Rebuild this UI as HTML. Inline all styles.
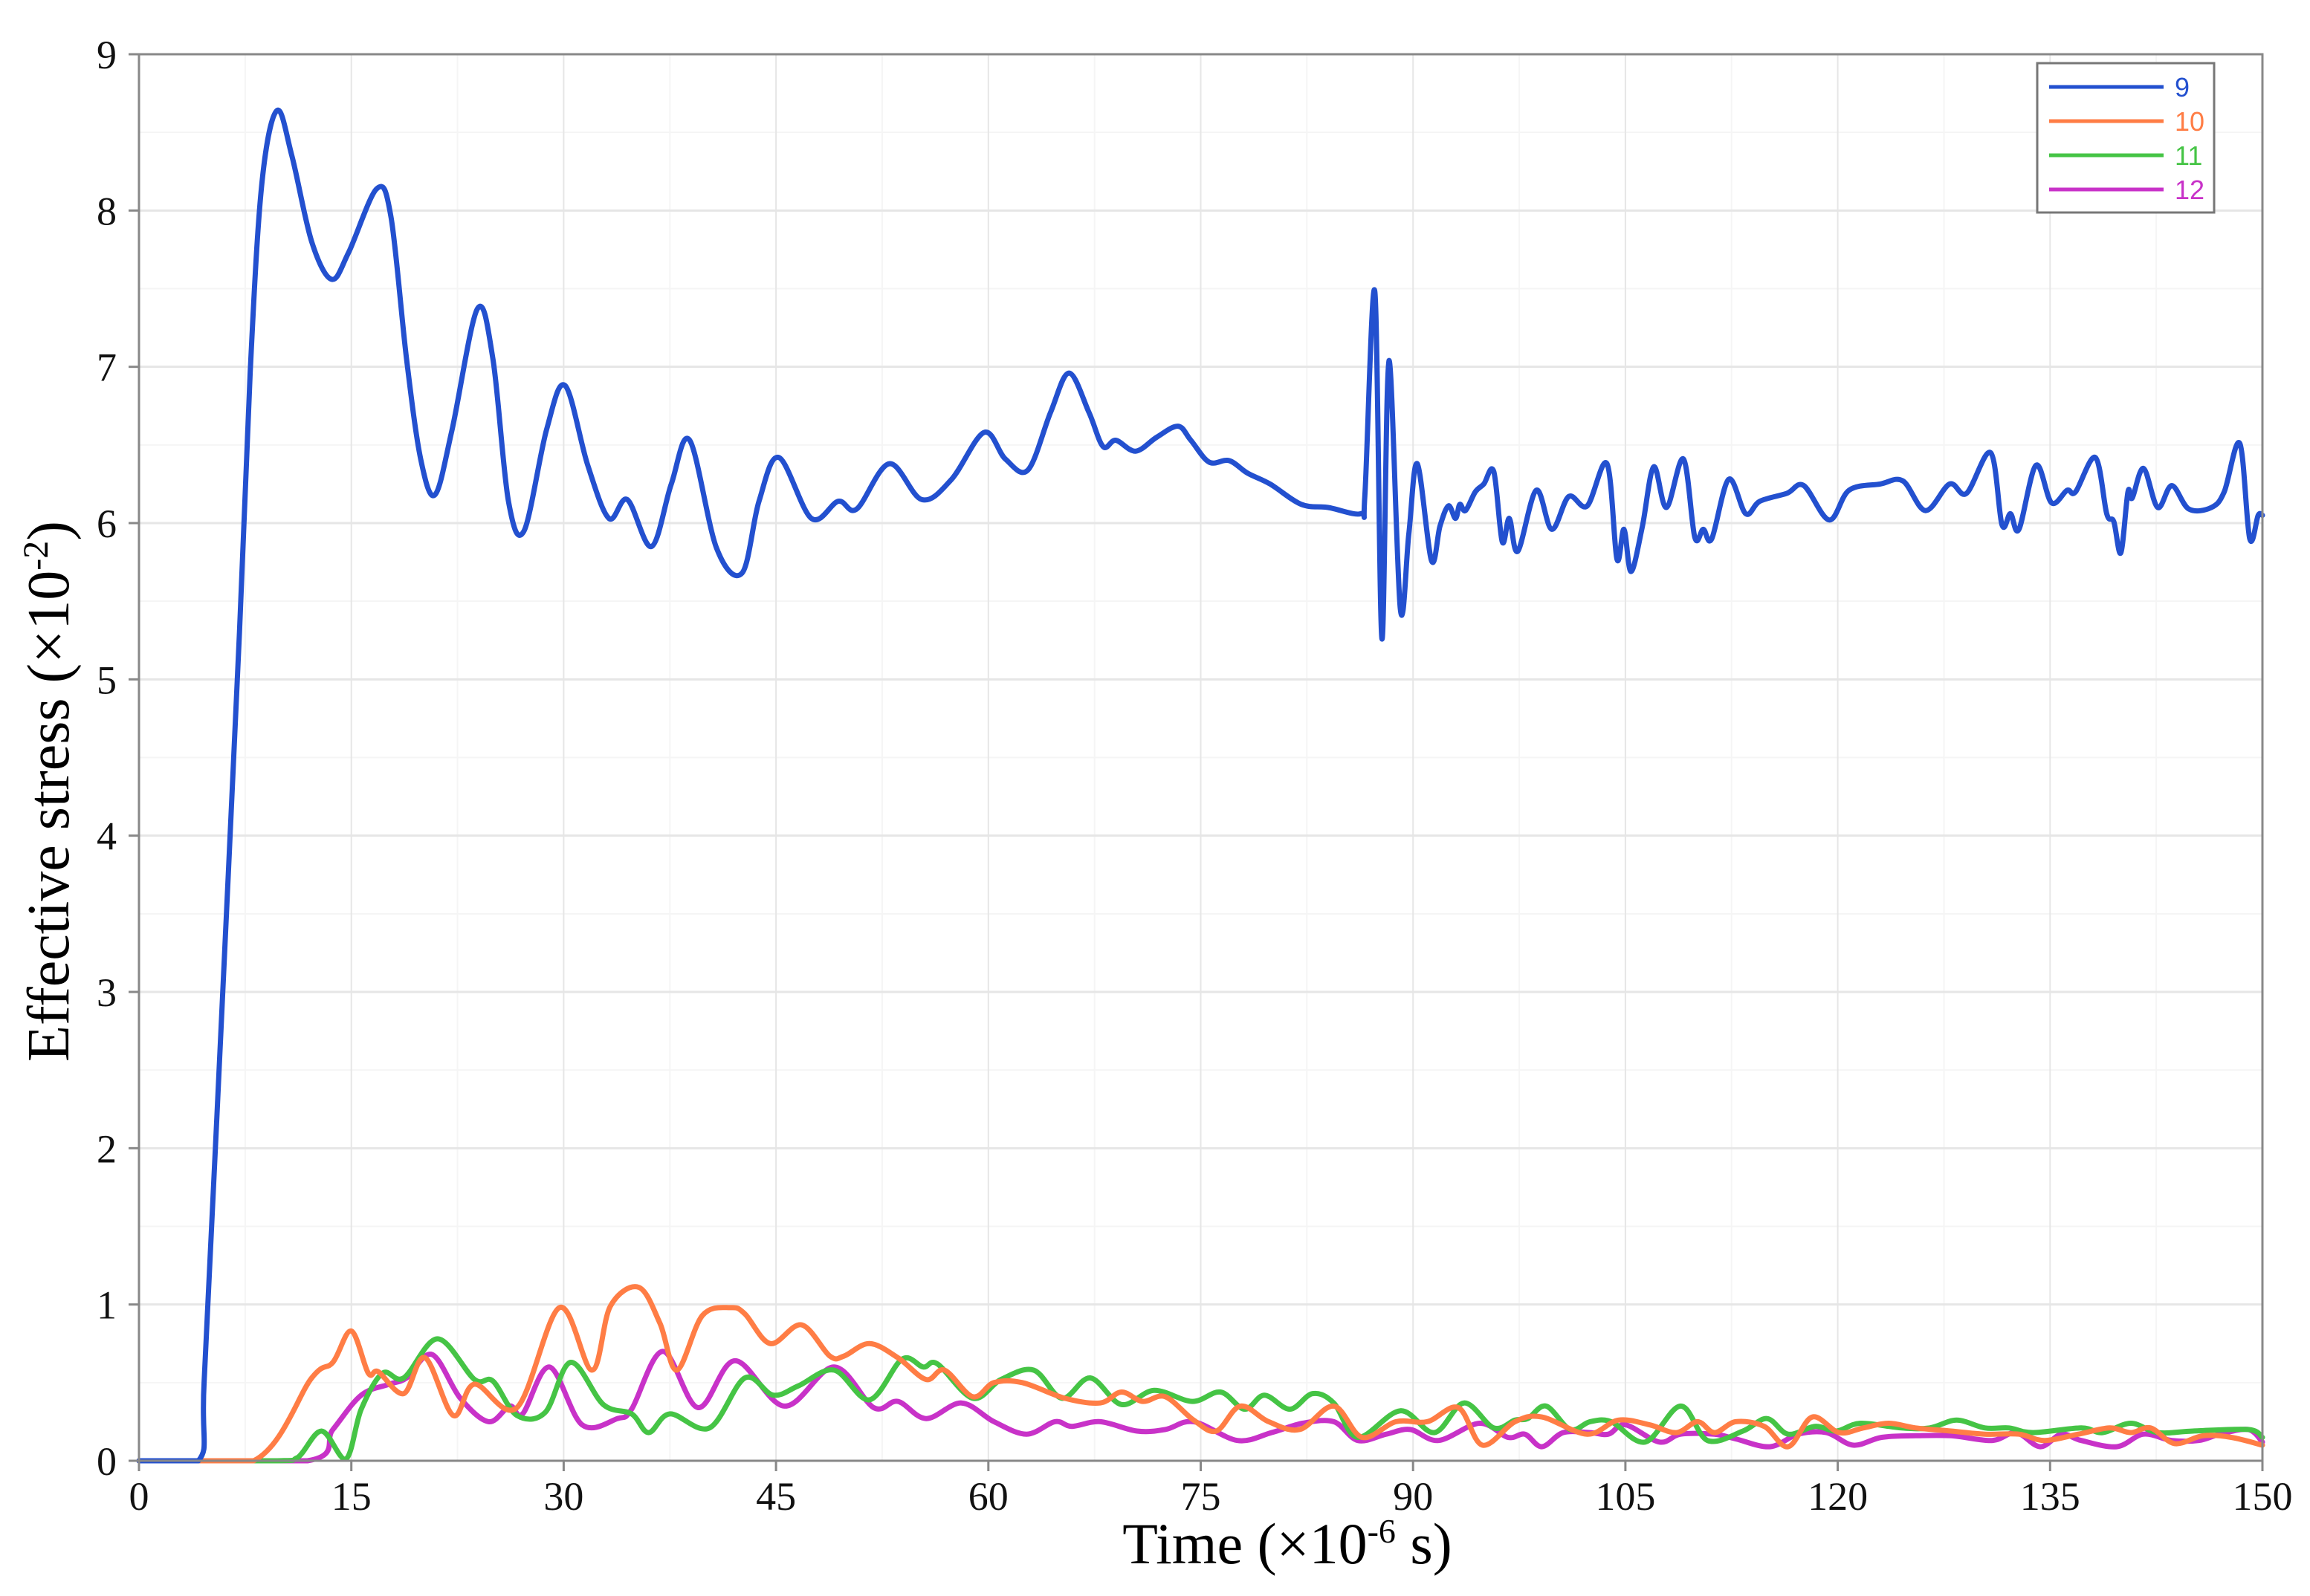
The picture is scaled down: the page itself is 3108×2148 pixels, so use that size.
<!DOCTYPE html>
<html><head><meta charset="utf-8"><style>
html,body{margin:0;padding:0;background:#fff;}
svg{display:block;}
</style></head><body>
<svg id="chart" width="3108" height="2148" viewBox="0 0 3108 2148" xmlns="http://www.w3.org/2000/svg">
<g id="grid"></g>
<g id="series"></g>
<g id="axes"></g>
<text x="1732" y="2104" text-anchor="middle" font-family="Liberation Serif, serif" font-size="78">Time (×10<tspan dy="-28" font-size="46">-6</tspan><tspan dy="28"> s)</tspan></text>
<text transform="translate(92,1065) rotate(-90)" text-anchor="middle" font-family="Liberation Serif, serif" font-size="80">Effective stress (×10<tspan dy="-28" font-size="48">-2</tspan><tspan dy="28">)</tspan></text>
<g>
<rect x="2741" y="85" width="238" height="201" fill="#fff" stroke="#777" stroke-width="3"/>
<g id="legend-entries"></g>
</g>
</svg>
<script>
const xTicks=[0,15,30,45,60,75,90,105,120,135,150];
const yTicks=[0,1,2,3,4,5,6,7,8,9];
const seriesNames=["9","10","11","12"];
const t9=[0,4.2,4.6,5.5,7.1,7.9,8.7,9.75,10.8,12.2,13.6,14.8,16.8,17.8,18.9,19.9,20.9,22.1,23.9,25,26.1,27.2,28.8,30.1,31.7,33.2,34.5,36.2,37.6,38.9,40.8,42.6,43.8,45.2,47.5,49.4,50.7,53,55.3,57.4,59.7,61.2,62.8,64.4,65.7,67.1,68.1,69,70.4,71.9,73.4,74.3,75.6,77,78.3,79.9,82.1,84,86.3,86.6,87.3,87.8,88.3,89.1,89.7,90.3,91.3,91.9,92.5,93,93.3,93.7,94.4,95,95.7,96.3,96.8,97.4,98.7,99.8,101,102.3,103.7,104.4,104.9,105.4,106.2,107,107.9,109.1,109.9,110.5,111.1,112.3,113.5,114.5,116.4,117.6,119.4,120.8,123,124.6,126.2,127.9,129.1,130.8,131.6,132.2,132.8,134,135.1,136.2,136.8,138.2,139,139.5,140,140.5,140.8,141.6,142.6,143.6,144.8,146.4,147.3,148.4,149.1,149.7,150];
const v9=[0,0,0.5,2.2,5.3,7.05,8.19,8.64,8.35,7.8,7.56,7.73,8.14,7.96,7.05,6.41,6.18,6.59,7.37,7.05,6.14,5.95,6.6,6.88,6.37,6.03,6.15,5.85,6.25,6.53,5.84,5.68,6.14,6.42,6.03,6.14,6.09,6.38,6.15,6.28,6.58,6.41,6.34,6.71,6.96,6.71,6.49,6.53,6.46,6.55,6.62,6.53,6.39,6.4,6.32,6.25,6.12,6.1,6.06,6.18,7.48,5.26,7.04,5.45,5.93,6.38,5.76,5.98,6.11,6.03,6.12,6.08,6.2,6.25,6.33,5.88,6.03,5.82,6.21,5.96,6.17,6.11,6.38,5.77,5.96,5.69,5.98,6.36,6.1,6.41,5.91,5.96,5.9,6.28,6.06,6.14,6.19,6.24,6.02,6.21,6.25,6.27,6.08,6.25,6.19,6.45,5.99,6.06,5.96,6.37,6.13,6.21,6.2,6.42,6.06,6.01,5.81,6.2,6.16,6.35,6.1,6.24,6.09,6.1,6.2,6.51,5.9,6.05,6.05];
const t10=[0,8.1,12.2,13.7,15.0,16.2,16.9,18.7,20.2,22.2,23.7,26.7,29.7,32,33.3,35.3,36.8,38,39.8,41.8,42.8,44.6,46.8,48.8,49.8,51.6,53.6,55.6,56.9,58.9,60.4,62.4,65.4,67.9,69.4,70.9,72.5,74.5,76.1,77.8,79.8,82,84.4,86.4,88.8,91,93.2,94.9,97.2,99.1,102.3,104.5,106.7,108.6,110.1,111.3,112.8,114.8,116.5,118.2,120.1,121.8,123.6,125.5,128,130.4,132.8,134.6,137,139.2,140.7,142.1,143.8,145.8,147.8,150];
const v10=[0,0,0.53,0.63,0.83,0.56,0.57,0.43,0.66,0.29,0.49,0.34,0.98,0.58,0.99,1.11,0.88,0.58,0.93,0.98,0.94,0.75,0.87,0.67,0.67,0.75,0.66,0.52,0.58,0.41,0.5,0.5,0.4,0.37,0.44,0.38,0.41,0.26,0.19,0.35,0.25,0.2,0.35,0.15,0.25,0.25,0.34,0.1,0.25,0.28,0.17,0.26,0.23,0.18,0.25,0.18,0.25,0.22,0.09,0.28,0.18,0.21,0.24,0.21,0.19,0.17,0.17,0.13,0.17,0.21,0.18,0.21,0.11,0.16,0.15,0.1];
const t11=[0,9.6,11.2,12.9,14.6,15.7,17.2,18.7,21.1,23.7,25,26.7,28.7,30.5,32.8,34.8,36,37.5,40.3,42.8,44.8,46.6,49.1,51.6,53.9,55.4,56.4,58.9,60.9,63.2,65.2,67.2,69.4,71.7,74.4,76.4,78.1,79.5,81.3,82.9,84.4,86.1,89.1,91.5,93.6,95.7,97.2,98.1,99.4,101.1,102.5,104,106.4,108.9,110.8,113.3,115,116.5,118.4,119.9,121.6,124.5,126.5,128.4,130.4,132.1,133.8,137.2,138.7,140.7,142.6,145.1,149,150];
const v11=[0,0,0.02,0.19,0.01,0.33,0.56,0.53,0.78,0.52,0.51,0.29,0.31,0.63,0.36,0.3,0.18,0.3,0.21,0.53,0.42,0.48,0.58,0.39,0.65,0.6,0.62,0.4,0.52,0.58,0.4,0.53,0.36,0.45,0.38,0.44,0.33,0.42,0.33,0.43,0.37,0.15,0.32,0.18,0.37,0.21,0.26,0.27,0.35,0.2,0.25,0.25,0.12,0.35,0.13,0.19,0.27,0.17,0.22,0.19,0.24,0.21,0.21,0.26,0.21,0.21,0.18,0.21,0.18,0.24,0.18,0.19,0.2,0.15];
const t12=[0,11.9,13.7,15.7,17.7,18.9,20.7,22.7,24.7,26.2,27.1,29,31.3,33.8,34.8,37,39.5,42.1,45.6,49.1,51.9,53.6,55.6,58.1,60.4,62.7,64.7,65.9,67.9,70.5,72.5,74.5,77.6,80,82.2,84.4,86.1,88.1,89.8,91.8,94.7,96.7,97.9,99.1,100.6,102.5,103.8,105,107.4,108.9,111.3,112.8,115.2,117.2,119.2,121.1,123.1,125.5,128,130.9,132.6,134.3,135.8,137.2,139.7,141.6,143.6,145.5,147,149,150];
const v12=[0,0,0.2,0.42,0.49,0.53,0.68,0.4,0.25,0.35,0.3,0.6,0.23,0.27,0.33,0.7,0.34,0.64,0.35,0.6,0.34,0.38,0.27,0.37,0.25,0.17,0.25,0.22,0.25,0.19,0.2,0.25,0.13,0.18,0.24,0.25,0.13,0.17,0.2,0.13,0.24,0.15,0.17,0.09,0.18,0.18,0.17,0.23,0.12,0.17,0.17,0.14,0.09,0.17,0.18,0.1,0.15,0.16,0.16,0.13,0.18,0.09,0.17,0.13,0.09,0.17,0.13,0.13,0.17,0.2,0.12];

const L=187,R=3044,T=73,B=1966,XMAX=150,YMAX=9;
const xs=t=>L+(R-L)*t/XMAX;
const ys=v=>B-(B-T)*v/YMAX;
const NS="http://www.w3.org/2000/svg";
function mk(tag,attrs,parent){const e=document.createElementNS(NS,tag);for(const k in attrs)e.setAttribute(k,attrs[k]);parent.appendChild(e);return e;}
const grid=document.getElementById('grid');
for(let t=7.5;t<150;t+=15){const g=mk('line',{x1:xs(t),x2:xs(t),y1:T,y2:B,stroke:'#f5f5f5','stroke-width':2},grid);

}
for(let v=0.5;v<9;v+=1){const g=mk('line',{x1:L,x2:R,y1:ys(v),y2:ys(v),stroke:'#f5f5f5','stroke-width':2},grid);

}
xTicks.forEach(t=>{const g=mk('line',{x1:xs(t),x2:xs(t),y1:T,y2:B,stroke:'#e6e6e6','stroke-width':2},grid);

});
yTicks.forEach(v=>{const g=mk('line',{x1:L,x2:R,y1:ys(v),y2:ys(v),stroke:'#e6e6e6','stroke-width':3},grid);

});
const axes=document.getElementById('axes');
const box=mk('rect',{x:L,y:T,width:R-L,height:B-T,fill:'none',stroke:'#888','stroke-width':3},axes);


xTicks.forEach(t=>{
const tk=mk('line',{x1:xs(t),x2:xs(t),y1:B,y2:B+14,stroke:'#888','stroke-width':3},axes);


const lb=mk('text',{x:xs(t),y:B+66,'text-anchor':'middle','font-family':'Liberation Serif, serif','font-size':54,fill:'#111'},axes);
lb.textContent=t;

});
yTicks.forEach(v=>{
const tk=mk('line',{x1:L-14,x2:L,y1:ys(v),y2:ys(v),stroke:'#888','stroke-width':3},axes);


const lb=mk('text',{x:L-30,y:ys(v)+19,'text-anchor':'end','font-family':'Liberation Serif, serif','font-size':54,fill:'#111'},axes);
lb.textContent=v;

});
function pathFor(ts,vs){
const p=ts.map((t,i)=>[xs(t),ys(vs[i])]);
let d='M'+p[0][0].toFixed(1)+','+p[0][1].toFixed(1);
for(let i=0;i<p.length-1;i++){
const p0=p[Math.max(0,i-1)],p1=p[i],p2=p[i+1],p3=p[Math.min(p.length-1,i+2)];
const k=1/6;
let c1x=p1[0]+(p2[0]-p0[0])*k,c1y=p1[1]+(p2[1]-p0[1])*k;
let c2x=p2[0]-(p3[0]-p1[0])*k,c2y=p2[1]-(p3[1]-p1[1])*k;
c1y=Math.min(c1y,B);c2y=Math.min(c2y,B);
d+=' C'+c1x.toFixed(1)+','+c1y.toFixed(1)+' '+c2x.toFixed(1)+','+c2y.toFixed(1)+' '+p2[0].toFixed(1)+','+p2[1].toFixed(1);}
return d;}
const colors=['#2350cf','#ff7d45','#45c445','#c832c8'];
const data=[[t9,v9],[t10,v10],[t11,v11],[t12,v12]];
const sg=document.getElementById('series');
[3,2,1,0].forEach(i=>{
const pth=mk('path',{d:pathFor(data[i][0],data[i][1]),fill:'none',stroke:colors[i],'stroke-width':7,'stroke-linejoin':'round','stroke-linecap':'round'},sg);

});
const le=document.getElementById('legend-entries');
seriesNames.forEach((n,i)=>{
const y=117+i*46;
const ln=mk('line',{x1:2757,x2:2911,y1:y,y2:y,stroke:colors[i],'stroke-width':5},le);


const tx=mk('text',{x:2926,y:y+13,'font-family':'Liberation Sans, sans-serif','font-size':36,fill:colors[i]},le);
tx.textContent=n;

});
</script>
</body></html>
